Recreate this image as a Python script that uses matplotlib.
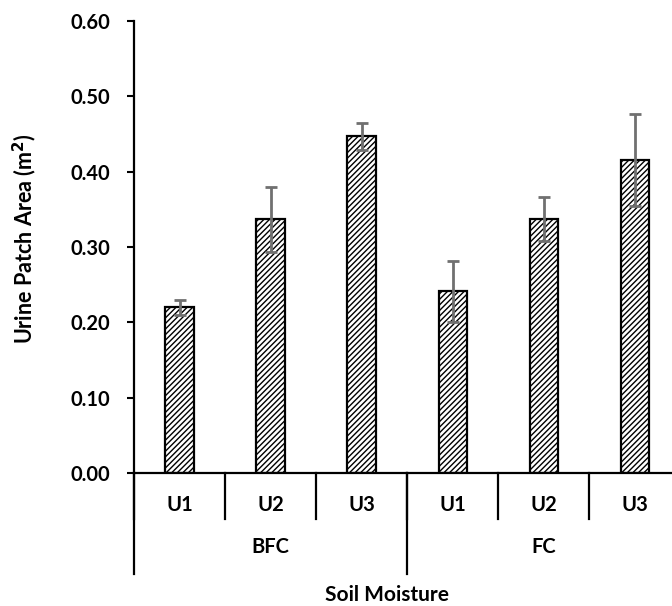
import numpy as np
import matplotlib.pyplot as plt

# data
moisture = ['BFC', 'FC']
urine = ['U1', 'U2', 'U3']
area = [0.220, 0.337, 0.447, 0.241, 0.337, 0.416]
err = [0.010, 0.043, 0.018, 0.040, 0.029, 0.061]

plt.rcParams['font.family'] = ['Lato', 'DejaVu Sans']
plt.rcParams['font.weight'] = 'bold'
plt.rcParams['hatch.linewidth'] = 1.0

fig = plt.figure(figsize=(6.72, 6.06), dpi=100)
ax = fig.add_axes([0.1994, 0.2195, 0.8006, 0.7458])

x = np.arange(len(area))
ax.bar(x, area, width=0.31, color='white', edgecolor='black', linewidth=1.6,
       hatch='//////', zorder=2)
ax.errorbar(x, area, yerr=err, fmt='none', ecolor='#707070', elinewidth=2,
            capsize=4.3, capthick=2, zorder=3)

ax.set_xlim(-0.5, 5.41)
ax.set_ylim(0, 0.6)
yt = np.arange(0, 0.61, 0.1)
ax.set_yticks(yt)
ax.set_yticklabels(['%.2f' % v for v in yt], fontsize=14.5, fontweight='bold')
ax.tick_params(axis='y', length=5, width=1.5, direction='out', pad=12)
ax.set_xticks([])
for s in ['top', 'right']:
    ax.spines[s].set_visible(False)
ax.spines['left'].set_linewidth(1.6)
ax.spines['bottom'].set_linewidth(1.6)

# two level category axis
tr = ax.get_xaxis_transform()
labels = [u for m in moisture for u in urine]
for i, lab in enumerate(labels):
    ax.text(i, -0.071, lab, transform=tr, ha='center', va='center', fontsize=14.5, fontweight='bold')
for b in np.arange(-0.5, len(area) - 1, 1.0):
    ax.plot([b, b], [0, -0.102], transform=tr, color='black', lw=1.6, clip_on=False)
for g in range(len(moisture)):
    b = g * len(urine) - 0.5
    ax.plot([b, b], [0, -0.223], transform=tr, color='black', lw=1.6, clip_on=False)
for g, m in enumerate(moisture):
    ax.text(g * len(urine) + 1, -0.164, m, transform=tr, ha='center', va='center',
            fontsize=14.5, fontweight='bold')

fig.text(0.037, 0.606, 'Urine Patch Area (m$^\\mathbf{2}$)', rotation=90, ha='center', va='center',
         fontsize=15.5, fontweight='bold')
fig.text(0.576, 0.018, 'Soil Moisture', ha='center', va='center', fontsize=15, fontweight='bold')

fig.savefig('out.png', dpi=100)
